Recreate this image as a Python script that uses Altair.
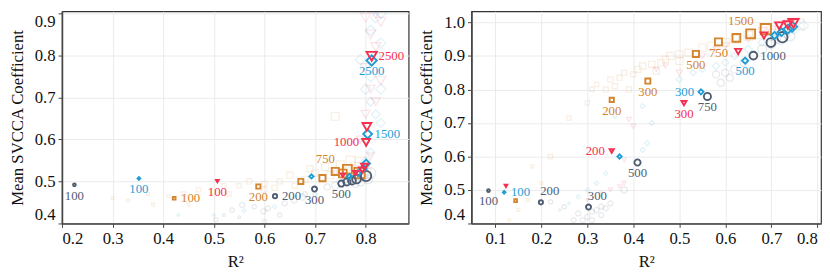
import altair as alt
import pandas as pd

SERIES = ["orange", "gray", "blue", "red"]
COLORS = ["#d4842c", "#4f5d73", "#1f9ed6", "#f5304f"]
SHAPES = ["square", "circle", "diamond", "triangle-down"]

# ---------- Left panel: highlighted checkpoints (R2, SVCCA, step) ----------
L_gray = [(0.2245, 0.492, 100), (0.621, 0.465, 200), (0.699, 0.482, 300), (0.752, 0.495, 500),
          (0.763, 0.499, 750), (0.773, 0.502, 1000), (0.782, 0.506, 1500), (0.801, 0.513, 2500)]
L_blue = [(0.352, 0.507, 100), (0.693, 0.512, 200), (0.768, 0.512, 300), (0.785, 0.52, 500),
          (0.795, 0.53, 750), (0.801, 0.543, 1000), (0.804, 0.613, 1500), (0.812, 0.788, 2500)]
L_orange = [(0.4217, 0.46, 100), (0.588, 0.488, 200), (0.672, 0.5, 300), (0.7147, 0.508, 500),
            (0.740, 0.524, 750), (0.755, 0.519, 1000), (0.764, 0.529, 1500), (0.788, 0.52, 2500)]
L_red = [(0.507, 0.501, 100), (0.755, 0.515, 200), (0.78, 0.52, 300), (0.793, 0.527, 500),
         (0.798, 0.535, 750), (0.801, 0.593, 1000), (0.8025, 0.63, 1500), (0.812, 0.798, 2500)]

# ---------- Left panel: faint individual runs ----------
LF_gray = [(0.504, 0.409, 200), (0.536, 0.432, 200), (0.556, 0.444, 300), (0.598, 0.429, 300),
           (0.607, 0.436, 300), (0.64, 0.448, 300), (0.659, 0.456, 500), (0.675, 0.463, 500),
           (0.724, 0.487, 500), (0.763, 0.498, 750), (0.792, 0.51, 1000), (0.52, 0.42, 100),
           (0.55, 0.415, 100), (0.63, 0.42, 200), (0.68, 0.47, 300), (0.74, 0.49, 750),
           (0.78, 0.495, 1000), (0.79, 0.5, 1500), (0.805, 0.505, 1500), (0.81, 0.52, 2500),
           (0.795, 0.515, 2500), (0.77, 0.505, 1000), (0.6, 0.405, 200), (0.58, 0.44, 200)]
LF_orange = [(0.3, 0.46, 100), (0.33, 0.455, 100), (0.37, 0.47, 100), (0.38, 0.445, 100),
             (0.41, 0.465, 100), (0.44, 0.47, 200), (0.45, 0.445, 100), (0.47, 0.48, 200),
             (0.5, 0.475, 200), (0.52, 0.49, 200), (0.53, 0.47, 200), (0.55, 0.49, 200),
             (0.57, 0.5, 300), (0.6, 0.495, 300), (0.6, 0.48, 300), (0.63, 0.5, 300),
             (0.65, 0.515, 500), (0.66, 0.49, 300), (0.68, 0.505, 500), (0.7, 0.52, 500),
             (0.72, 0.535, 750), (0.73, 0.515, 750), (0.74, 0.655, 1000), (0.75, 0.54, 1000),
             (0.76, 0.525, 1000), (0.77, 0.55, 1500), (0.78, 0.535, 1500), (0.79, 0.545, 2500),
             (0.8, 0.52, 2500), (0.62, 0.485, 300), (0.69, 0.53, 500)]
LF_blue = [(0.43, 0.42, 100), (0.5, 0.42, 100), (0.56, 0.43, 200), (0.62, 0.44, 200),
           (0.7, 0.47, 300), (0.76, 0.5, 500), (0.8, 0.55, 1000), (0.81, 0.57, 1000),
           (0.8, 0.6, 1500), (0.83, 0.64, 1500), (0.82, 0.66, 1500), (0.81, 0.69, 1500),
           (0.8, 0.72, 2500), (0.83, 0.72, 2500), (0.81, 0.75, 2500), (0.79, 0.79, 2500),
           (0.82, 0.8, 2500), (0.83, 0.83, 2500), (0.81, 0.86, 2500), (0.82, 0.89, 2500),
           (0.83, 0.9, 2500)]
LF_red = [(0.74, 0.52, 300), (0.78, 0.53, 500), (0.8, 0.53, 750), (0.81, 0.56, 1000),
          (0.79, 0.6, 1000), (0.8, 0.66, 1500), (0.82, 0.69, 1500), (0.81, 0.72, 1500),
          (0.83, 0.74, 2500), (0.8, 0.77, 2500), (0.82, 0.82, 2500), (0.81, 0.85, 2500),
          (0.83, 0.88, 2500), (0.82, 0.9, 2500), (0.8, 0.89, 2500)]

# ---------- Right panel: highlighted checkpoints ----------
R_gray = [(0.085, 0.498, 100), (0.199, 0.463, 200), (0.3025, 0.449, 300), (0.409, 0.582, 500),
          (0.561, 0.779, 750), (0.661, 0.901, 1000), (0.699, 0.94, 1500), (0.724, 0.956, 2500)]
R_blue = [(0.119, 0.493, 100), (0.37, 0.6, 200), (0.547, 0.793, 300), (0.643, 0.886, 500),
          (0.707, 0.961, 750), (0.722, 0.971, 1000), (0.736, 0.98, 1500), (0.745, 0.987, 2500)]
R_orange = [(0.144, 0.468, 100), (0.353, 0.769, 200), (0.4315, 0.825, 300), (0.536, 0.906, 500),
            (0.585, 0.942, 750), (0.624, 0.954, 1000), (0.655, 0.966, 1500), (0.688, 0.98, 2500)]
R_red = [(0.123, 0.512, 100), (0.353, 0.616, 200), (0.51, 0.759, 300), (0.628, 0.913, 500),
         (0.684, 0.961, 750), (0.717, 0.99, 1000), (0.736, 0.992, 1500), (0.748, 0.997, 2500)]

# ---------- Right panel: faint individual runs ----------
RF_orange = [(0.1, 0.39, 100), (0.13, 0.41, 100), (0.15, 0.44, 100), (0.17, 0.47, 100),
             (0.18, 0.57, 100), (0.2, 0.52, 100), (0.22, 0.6, 200), (0.26, 0.715, 200),
             (0.3, 0.76, 200), (0.31, 0.8, 200), (0.32, 0.815, 200), (0.34, 0.8, 300),
             (0.35, 0.83, 300), (0.36, 0.81, 300), (0.37, 0.835, 300), (0.38, 0.85, 300),
             (0.39, 0.8, 300), (0.4, 0.845, 300), (0.41, 0.86, 500), (0.42, 0.87, 500),
             (0.44, 0.875, 500), (0.45, 0.855, 500), (0.46, 0.88, 500), (0.47, 0.89, 500),
             (0.48, 0.9, 750), (0.5, 0.905, 750), (0.5, 0.885, 750), (0.52, 0.91, 750),
             (0.55, 0.925, 750), (0.57, 0.93, 1000), (0.6, 0.94, 1000), (0.62, 0.95, 1000),
             (0.65, 0.96, 1500), (0.67, 0.965, 1500), (0.7, 0.975, 1500), (0.72, 0.985, 2500),
             (0.74, 0.99, 2500), (0.76, 0.995, 2500)]
RF_gray = [(0.22, 0.465, 200), (0.25, 0.45, 200), (0.27, 0.41, 300), (0.28, 0.43, 300),
           (0.29, 0.41, 300), (0.3, 0.42, 300), (0.31, 0.41, 300), (0.31, 0.435, 300),
           (0.32, 0.44, 300), (0.33, 0.425, 300), (0.33, 0.45, 300), (0.34, 0.445, 300),
           (0.35, 0.46, 300), (0.38, 0.5, 500), (0.58, 0.845, 750), (0.59, 0.82, 750),
           (0.6, 0.85, 750), (0.61, 0.835, 750), (0.62, 0.86, 1000), (0.64, 0.88, 1000),
           (0.66, 0.9, 1000), (0.68, 0.92, 1500), (0.7, 0.935, 1500), (0.71, 0.95, 1500),
           (0.72, 0.95, 2500), (0.73, 0.97, 2500), (0.74, 0.96, 2500)]
RF_blue = [(0.24, 0.44, 100), (0.26, 0.46, 100), (0.28, 0.48, 200), (0.3, 0.5, 200),
           (0.32, 0.52, 200), (0.34, 0.55, 200), (0.36, 0.72, 200), (0.42, 0.62, 300),
           (0.43, 0.64, 300), (0.44, 0.7, 300), (0.42, 0.75, 300), (0.5, 0.83, 500),
           (0.53, 0.85, 500), (0.55, 0.86, 500), (0.58, 0.87, 750), (0.6, 0.88, 750),
           (0.62, 0.9, 750), (0.65, 0.92, 1000), (0.68, 0.94, 1000), (0.7, 0.96, 1500),
           (0.72, 0.97, 1500), (0.75, 0.98, 2500), (0.77, 0.99, 2500)]
RF_red = [(0.3, 0.47, 100), (0.33, 0.49, 100), (0.35, 0.5, 200), (0.37, 0.51, 200),
          (0.38, 0.52, 200), (0.38, 0.59, 200), (0.39, 0.71, 300), (0.4, 0.69, 300),
          (0.45, 0.86, 300), (0.47, 0.87, 300), (0.5, 0.85, 500), (0.55, 0.9, 500),
          (0.58, 0.92, 500), (0.6, 0.93, 750), (0.65, 0.95, 750), (0.68, 0.975, 1000),
          (0.7, 0.97, 1000), (0.72, 0.99, 1500), (0.74, 0.995, 2500), (0.75, 1.0, 2500)]

# ---------- labels: (series, step, placement) ----------
L_labels = [("gray", 100, "below"), ("gray", 200, "right"), ("gray", 300, "below"), ("gray", 500, "below"),
            ("blue", 100, "below"), ("blue", 1500, "right"), ("blue", 2500, "below"),
            ("orange", 100, "right"), ("orange", 200, "below"), ("orange", 750, "aboveleft"),
            ("red", 100, "below"), ("red", 1000, "left"), ("red", 2500, "right")]
R_labels = [("gray", 100, "below"), ("gray", 200, "aboveright"), ("gray", 300, "aboveright"),
            ("gray", 500, "below"), ("gray", 750, "below"), ("gray", 1000, "right"),
            ("blue", 100, "right"), ("blue", 300, "left"), ("blue", 500, "below"),
            ("orange", 200, "below"), ("orange", 300, "below"), ("orange", 500, "below"),
            ("orange", 750, "below"), ("orange", 1500, "aboveleft"),
            ("red", 200, "left"), ("red", 300, "below")]

X_TICKS_L = [0.2, 0.3, 0.4, 0.5, 0.6, 0.7, 0.8]
Y_TICKS_L = [0.4, 0.5, 0.6, 0.7, 0.8, 0.9]
X_TICKS_R = [0.1, 0.2, 0.3, 0.4, 0.5, 0.6, 0.7, 0.8]
Y_TICKS_R = [0.4, 0.5, 0.6, 0.7, 0.8, 0.9, 1.0]

FONT = "Liberation Serif"


def to_df(groups):
    rows = []
    for name, pts in groups:
        for x, y, s in pts:
            rows.append(dict(series=name, r2=x, svcca=y, step=s))
    return pd.DataFrame(rows)


def label_df(main_df, labels):
    rows = []
    for name, step, place in labels:
        r = main_df[(main_df.series == name) & (main_df.step == step)].iloc[0]
        rows.append(dict(series=name, r2=r.r2, svcca=r.svcca, step=step, text=str(step), place=place))
    return pd.DataFrame(rows)


PLACES = {
    "below": dict(dx=0, dy=11, align="center"),
    "right": dict(dx=7, dy=0, align="left"),
    "left": dict(dx=-7, dy=0, align="right"),
    "aboveright": dict(dx=9, dy=-11, align="center"),
    "aboveleft": dict(dx=-10, dy=-13, align="center"),
}


def panel(main, faint, labels, xdom, ydom, xticks, yticks, w, h):
    mdf = to_df(main)
    fdf = to_df(faint)
    ldf = label_df(mdf, labels)
    x = alt.X("r2:Q", title="R²", scale=alt.Scale(domain=xdom, nice=False, zero=False),
              axis=alt.Axis(values=xticks, format=".1f"))
    y = alt.Y("svcca:Q", title="Mean SVCCA Coefficient",
              scale=alt.Scale(domain=ydom, nice=False, zero=False),
              axis=alt.Axis(values=yticks, format=".1f"))
    color = alt.Color("series:N", scale=alt.Scale(domain=SERIES, range=COLORS), legend=None)
    shape = alt.Shape("series:N", scale=alt.Scale(domain=SERIES, range=SHAPES), legend=None)
    size = alt.Size("step:Q", scale=alt.Scale(type="sqrt", domain=[100, 2500], range=[8, 110], zero=False),
                    legend=None)
    faint_layer = alt.Chart(fdf).mark_point(filled=False, strokeWidth=1.2, opacity=0.13, clip=True).encode(
        x=x, y=y, color=color, shape=shape, size=size)
    main_layer = alt.Chart(mdf).mark_point(filled=False, strokeWidth=1.9, opacity=1, clip=True).encode(
        x=x, y=y, color=color, shape=shape, size=size)
    layers = [faint_layer, main_layer]
    for place, p in PLACES.items():
        sub = ldf[ldf.place == place]
        if len(sub) == 0:
            continue
        layers.append(alt.Chart(sub).mark_text(font=FONT, fontSize=13, baseline="middle", **p).encode(
            x=x, y=y, text="text:N", color=color))
    return alt.layer(*layers).properties(width=w, height=h)


left = panel([("orange", L_orange), ("gray", L_gray), ("blue", L_blue), ("red", L_red)],
             [("orange", LF_orange), ("gray", LF_gray), ("blue", LF_blue), ("red", LF_red)],
             L_labels, [0.2, 0.885], [0.4, 0.905], X_TICKS_L, Y_TICKS_L, 353, 216)
right = panel([("orange", R_orange), ("gray", R_gray), ("blue", R_blue), ("red", R_red)],
              [("orange", RF_orange), ("gray", RF_gray), ("blue", RF_blue), ("red", RF_red)],
              R_labels, [0.048, 0.808], [0.4, 1.033], X_TICKS_R, Y_TICKS_R, 356, 216)

chart = alt.hconcat(left, right, spacing=8).properties(
    padding={"left": 0, "top": 0, "right": 0, "bottom": 0},
    background="white",
).configure_view(stroke="#333", strokeWidth=1.2).configure_axis(
    labelFont=FONT, labelFontSize=17, labelColor="#111",
    titleFont=FONT, titleFontSize=17, titleFontWeight="normal", titleColor="#111",
    gridColor="#ebebeb", gridWidth=1, domainColor="#444", domainWidth=1.5,
    tickColor="#444", tickSize=4, labelPadding=3, titlePadding=8, labelFlush=5
)

chart.save("out.html", embed_options={"renderer": "svg", "actions": False})
